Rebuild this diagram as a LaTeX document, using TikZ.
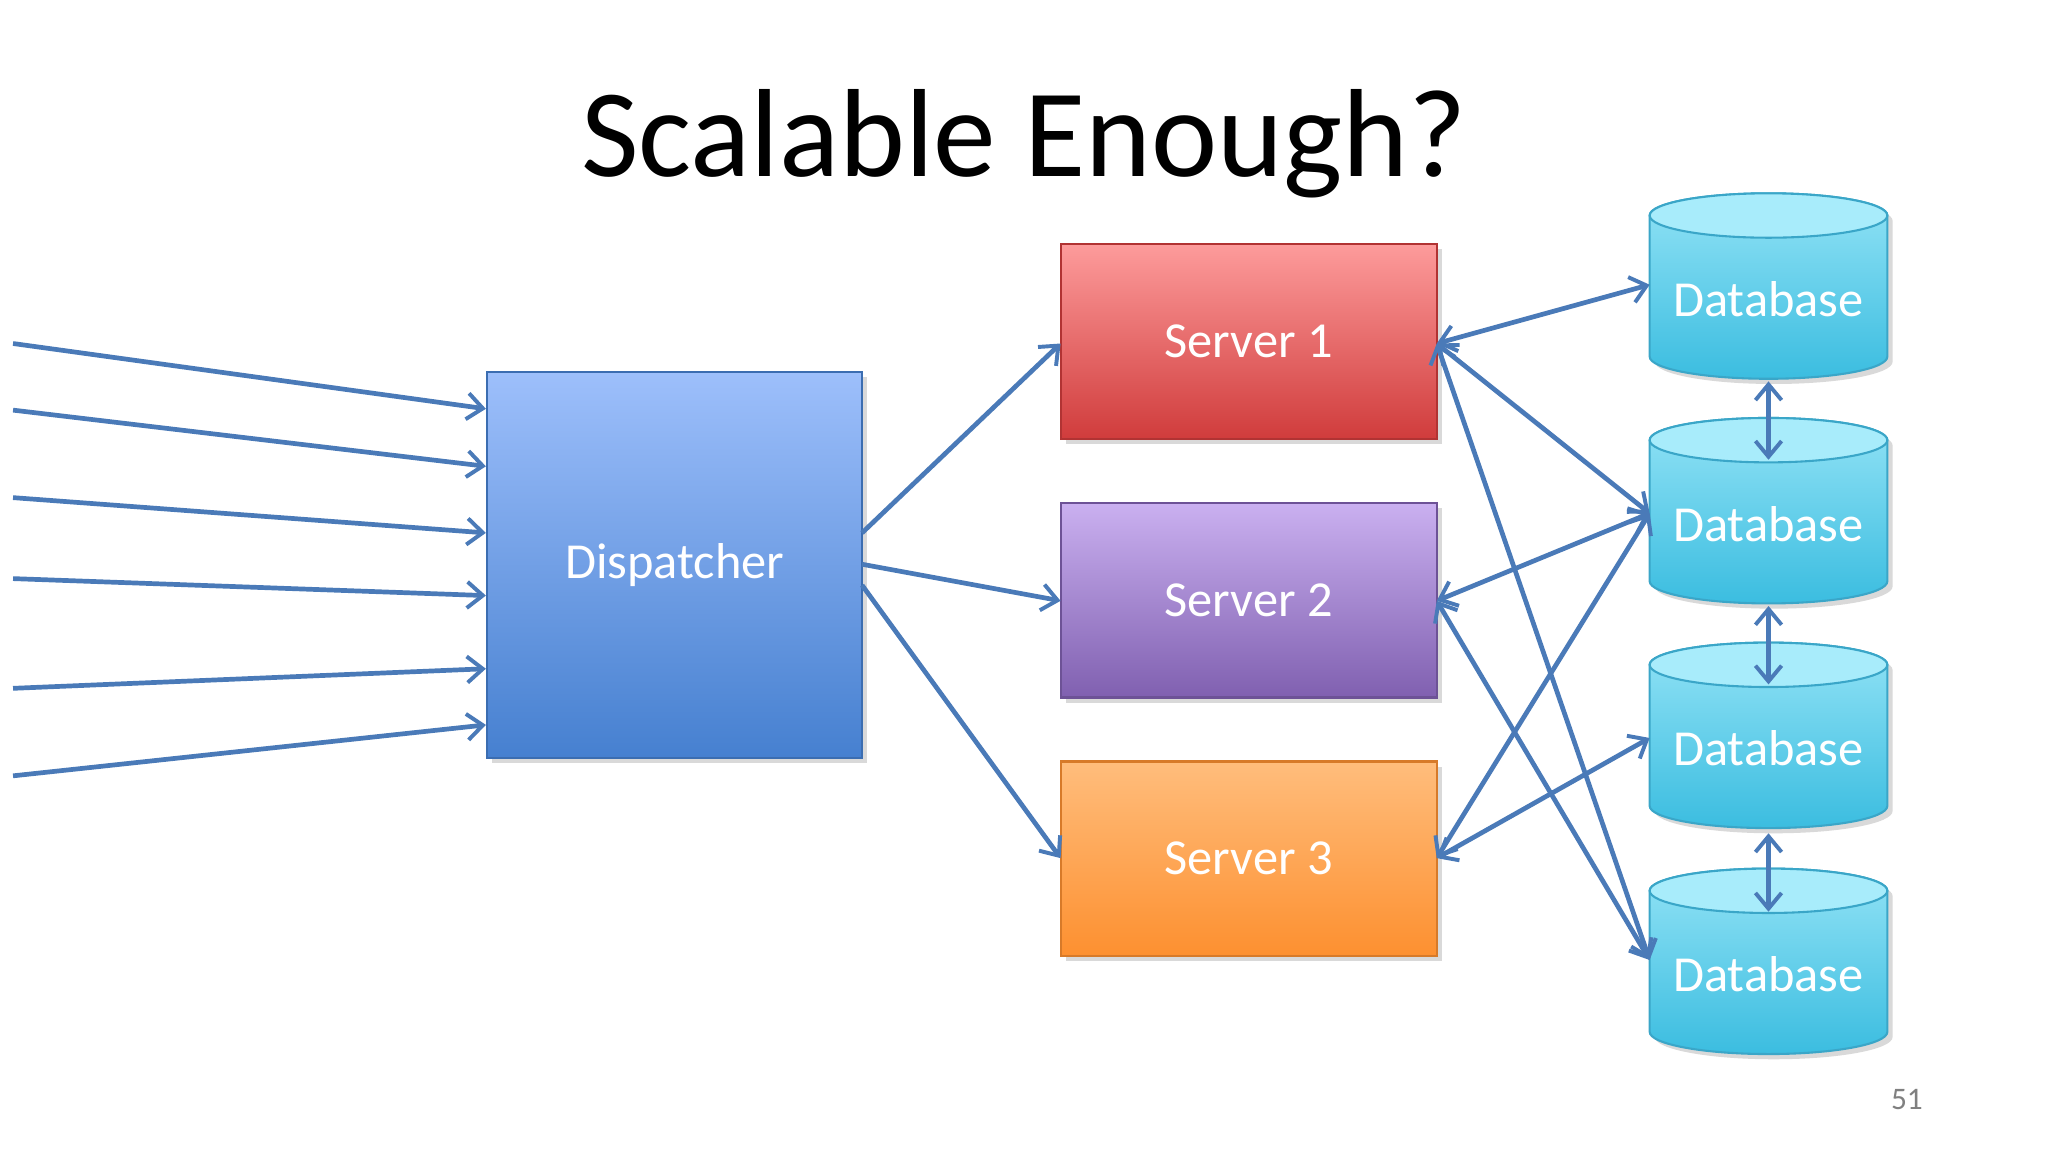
\documentclass[tikz,border=0pt]{standalone}
\usepackage{fontspec}
\setmainfont{Carlito}
\usetikzlibrary{arrows.meta}
\begin{document}
\begin{tikzpicture}[x=0.5pt,y=-0.5pt,
  conn/.style={draw=arrowc,line width=1.8pt,-{Straight Barb[length=6pt,width=10pt,line width=1.5pt]}},
  bconn/.style={conn,{Straight Barb[length=6pt,width=10pt,line width=1.5pt]}-{Straight Barb[length=6pt,width=10pt,line width=1.5pt]}},
  lbl/.style={text=white,font=\fontsize{19.3}{22}\selectfont}]
\definecolor{arrowc}{HTML}{4A7AB8}
\fill[white] (0,0) rectangle (1568,882);
\node[font=\fontsize{48}{54}\selectfont] (title) at (784,110) {Scalable Enough?};
\node[text=gray,font=\fontsize{12}{14}\selectfont] (pg) at (1460,842) {51};
% boxes
\newcommand\gbox[7]{%
  \fill[black!15] (#1+4,#2+4) rectangle (#3+4,#4+4);
  \shade[top color=#5,bottom color=#6] (#1,#2) rectangle (#3,#4);
  \draw[#6!85!black,line width=0.8pt] (#1,#2) rectangle (#3,#4);
  \node[lbl] (#7) at ({(#1+#3)/2},{(#2+#4)/2}) {\csname lbl#7\endcsname};}
\def\lbldisp{Dispatcher}\def\lblsa{Server 1}\def\lblsb{Server 2}\def\lblsc{Server 3}
\definecolor{dA}{HTML}{9DBFFB}\definecolor{dB}{HTML}{4680D0}
\definecolor{rA}{HTML}{FD9B9B}\definecolor{rB}{HTML}{D03C3C}
\definecolor{pA}{HTML}{CAB0F0}\definecolor{pB}{HTML}{8060B0}
\definecolor{oA}{HTML}{FFBD7C}\definecolor{oB}{HTML}{FD9030}
\gbox{373}{285}{660}{580}{dA}{dB}{disp}
\gbox{812}{187}{1100}{336}{rA}{rB}{sa}
\gbox{812}{385}{1100}{534}{pA}{pB}{sb}
\gbox{812}{583}{1100}{732}{oA}{oB}{sc}
% databases
\definecolor{cA}{HTML}{A8ECFB}\definecolor{cB}{HTML}{3BBDE0}\definecolor{cL}{HTML}{3AA6C8}
\foreach \t/\n in {148/dba,320/dbb,492/dbc,665/dbd}{
  \fill[black!15] (1267,\t+21) -- (1267,\t+129) arc[start angle=180,end angle=0,x radius=91,y radius=17] -- (1449,\t+21) arc[start angle=0,end angle=-180,x radius=91,y radius=17] -- cycle;
  \shade[top color=cA!80!cB,bottom color=cB,draw=cL,line width=0.8pt] (1263,\t+17) -- (1263,\t+125) arc[start angle=180,end angle=0,x radius=91,y radius=17] -- (1445,\t+17) arc[start angle=0,end angle=-180,x radius=91,y radius=17] -- cycle;
  \filldraw[fill=cA,draw=cL,line width=0.8pt] (1354,\t+17) ellipse[x radius=91,y radius=17];
  \node[lbl] (\n) at (1354,\t+81) {Database};
}
% coordinates
\foreach \i/\y/\ty in {1/263/313,2/314/357,3/381/408,4/443/456,5/527/512,6/594/555}{
  \coordinate (in\i) at (10,\y); \coordinate (di\i) at (372,\ty);
  \draw[conn] (in\i) -- (di\i);}
\coordinate (dr1) at (660,408); \coordinate (dr2) at (660,432); \coordinate (dr3) at (660,448);
\coordinate (sal) at (812,263); \coordinate (sbl) at (812,460); \coordinate (scl) at (812,657);
\coordinate (sar) at (1100,263); \coordinate (sbr) at (1100,460); \coordinate (scr) at (1100,657);
\coordinate (ta) at (1263,218); \coordinate (tb) at (1263,393); \coordinate (tc) at (1263,565); \coordinate (td) at (1263,735);
\draw[conn] (dr1) -- (sal);
\draw[conn] (dr2) -- (sbl);
\draw[conn] (dr3) -- (scl);
\draw[bconn] (sar) -- (ta);
\draw[bconn] (sar) -- (tb);
\draw[bconn] (sar) -- (td);
\draw[bconn] (sbr) -- (tb);
\draw[bconn] (sbr) -- (td);
\draw[bconn] (scr) -- (tb);
\draw[bconn] (scr) -- (tc);
\foreach \a/\b in {292/352,464/524,638/698}{
  \coordinate (va\a) at (1354,\a); \coordinate (vb\a) at (1354,\b);
  \draw[bconn] (va\a) -- (vb\a);}
\end{tikzpicture}
\end{document}
